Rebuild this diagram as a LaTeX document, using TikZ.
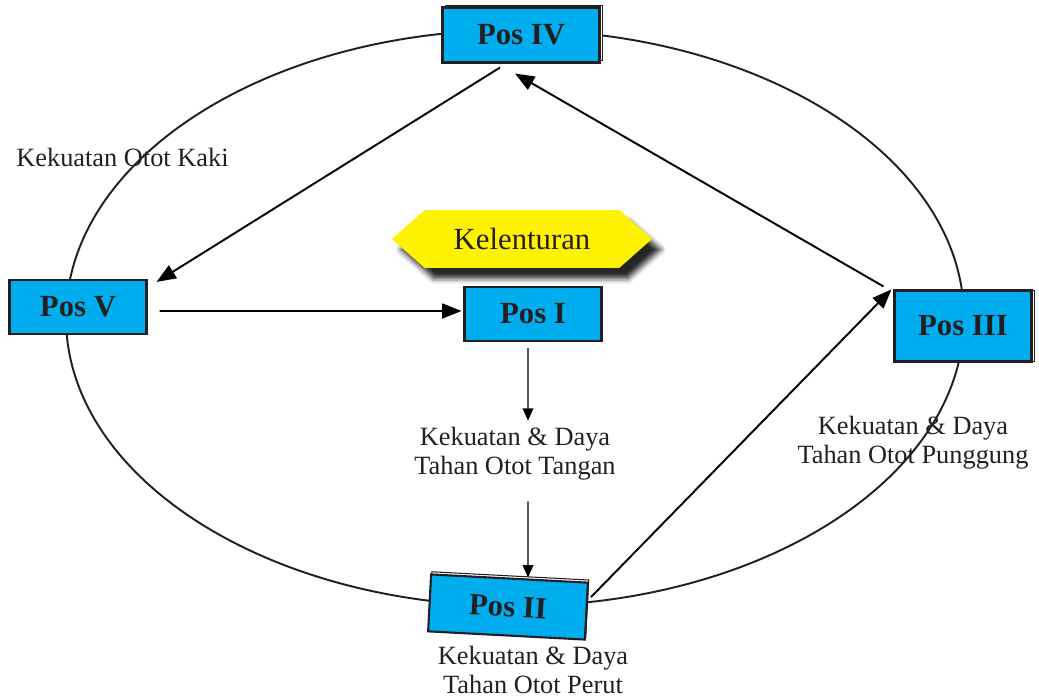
\documentclass[tikz,border=0pt]{standalone}
\usepackage{fontspec}
\setmainfont{Liberation Serif}
\usetikzlibrary{arrows.meta}
\usetikzlibrary{shapes.symbols}
\usetikzlibrary{shadows,shadows.blur}
\definecolor{poscyan}{HTML}{00AEEF}
\definecolor{posline}{HTML}{231F20}
\definecolor{kuning}{HTML}{FFF200}

\begin{document}
\begin{tikzpicture}[x=0.02cm,y=-0.02cm,
        posbox/.style={draw=posline,fill=poscyan,line width=1.2pt,text=posline,
            font=\fontsize{17.5}{20}\selectfont\bfseries,inner sep=0pt},
        keterangan/.style={text=posline,align=center,font=\fontsize{15}{16.5}\selectfont,inner sep=2pt},
        panah/.style={line width=1.1pt,-{Triangle[length=11pt,width=8.5pt]}},
        panahkecil/.style={line width=0.8pt,-{Triangle[length=7pt,width=6pt]}}]
        \useasboundingbox (0,0) rectangle (1039,699);

        \draw[line width=1.1pt,posline] (515,318) ellipse [x radius=449, y radius=288];

        % pos
        \node[posbox,minimum width=3.14cm,minimum height=1.1cm,
            copy shadow={shadow xshift=1.5pt,shadow yshift=1pt,fill=white,draw=posline,line width=0.6pt}] (posIV) at (521,35) {Pos IV};
        \node[posbox,minimum width=2.74cm,minimum height=1.08cm] (posV) at (78,307) {Pos V};
        \node[posbox,minimum width=2.74cm,minimum height=1.08cm] (posI) at (533,314) {Pos I};
        \node[posbox,minimum width=2.74cm,minimum height=1.42cm,
            copy shadow={shadow xshift=1.5pt,shadow yshift=0pt,fill=white,draw=posline,line width=0.6pt}] (posIII) at (963,326) {Pos III};
        \node[posbox,minimum width=3.14cm,minimum height=1.14cm,rotate=-3,
            copy shadow={shadow xshift=0.5pt,shadow yshift=1.5pt,fill=white,draw=posline,line width=0.6pt}] (posII) at (508,607) {Pos II};

        \node[signal,signal to=west and east,signal pointer angle=83,fill=kuning,
            minimum width=5.2cm,minimum height=1.16cm,inner sep=0pt,text=posline,
            font=\fontsize{17.5}{20}\selectfont,
            blur shadow={shadow xshift=5pt,shadow yshift=-6pt,shadow blur radius=3pt,shadow opacity=85}] (kelenturan) at (522,239) {Kelenturan};

        % keterangan
        \node[keterangan,anchor=west,inner sep=0pt] (kaki) at (16,157) {Kekuatan Otot Kaki};
        \node[keterangan] (tangan) at (515,454) {Kekuatan \& Daya\\Tahan Otot Tangan};
        \node[keterangan] (punggung) at (913,443) {Kekuatan \& Daya\\Tahan Otot Punggung};
        \node[keterangan] (perut) at (533,670) {Kekuatan \& Daya\\Tahan Otot Perut};

        % panah
        \draw[panah] ([xshift=-0.42cm,yshift=-0.08cm]posIV.south) -- ([shift={(0.18cm,-0.06cm)}]posV.north east);
        \draw[panah] ([xshift=0.24cm,yshift=-0.08cm]posV.east) -- ([xshift=-0.04cm,yshift=0.06cm]posI.west);
        \draw[panahkecil] ([xshift=-0.1cm,yshift=-0.12cm]posI.south) -- ([xshift=0.26cm,yshift=0.06cm]tangan.north);
        \draw[panahkecil] ([xshift=0.26cm,yshift=-0.34cm]tangan.south) -- ([xshift=0.37cm]posII.north);
        \draw[panah] ([shift={(0.07cm,0.28cm)}]posII.east) -- ([xshift=-0.04cm]posIII.north west);
        \draw[panah] ([shift={(-0.2cm,0.06cm)}]posIII.north west) -- ([shift={(-0.12cm,-0.2cm)}]posIV.south);
    \end{tikzpicture}
\end{document}
